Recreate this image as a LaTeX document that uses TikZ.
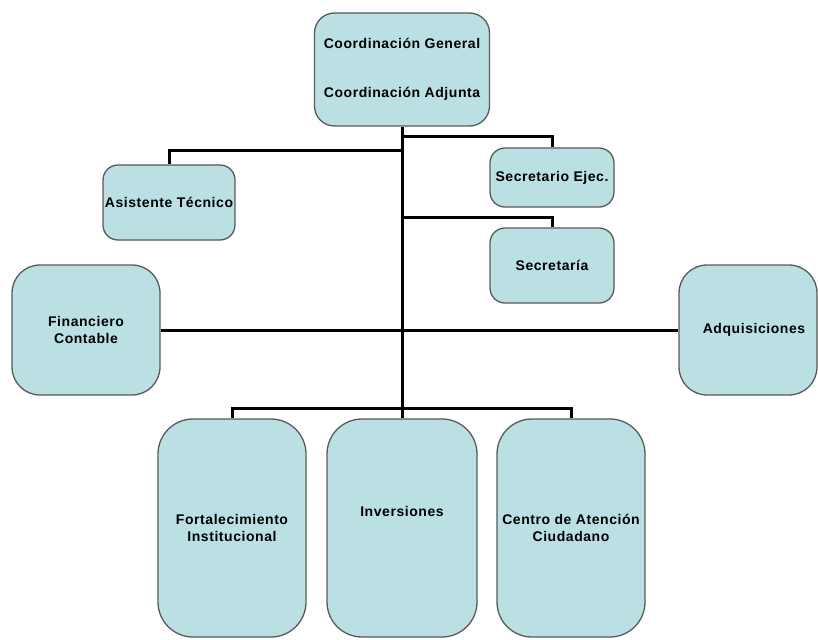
\documentclass[tikz,border=0pt]{standalone}
\usepackage{fontspec}
\setmainfont{Liberation Sans}[LetterSpace=4]
\begin{document}
\definecolor{boxfill}{RGB}{186,224,228}
\definecolor{boxline}{RGB}{90,90,90}
\begin{tikzpicture}[x=1pt,y=-1pt,
  box/.style={draw=boxline,line width=1.3pt,fill=boxfill,inner sep=0pt,
    align=center,font=\bfseries\fontsize{14}{17}\selectfont},
  wire/.style={line width=3pt,black}]
\useasboundingbox (0,0) rectangle (818,639);

% junction points on the central trunk
\coordinate (j2) at (402,137);
\coordinate (j1) at (402,151);
\coordinate (j3) at (402,217);
\coordinate (bus) at (402,408);

\node[box,rounded corners=20pt,minimum width=175pt,minimum height=113pt] (top) at (402,69.5)
  {Coordinación General\\[32pt]Coordinación Adjunta};
\node[box,rounded corners=15pt,minimum width=132pt,minimum height=75pt] (asist) at (169,202.5)
  {Asistente Técnico};
\node[box,rounded corners=15pt,minimum width=124pt,minimum height=59pt] (secej) at (552,177.5)
  {Secretario Ejec.};
\node[box,rounded corners=15pt,minimum width=124pt,minimum height=75pt] (secr) at (552,265.5)
  {Secretaría};
\node[box,rounded corners=28pt,minimum width=148pt,minimum height=130pt] (fin) at (86,330)
  {Financiero\\Contable};
\node[box,rounded corners=28pt,minimum width=138pt,minimum height=130pt] (adq) at (748,330)
  {\hspace*{12pt}Adquisiciones};
\node[box,rounded corners=35pt,minimum width=148pt,minimum height=218pt] (fort) at (232,528)
  {Fortalecimiento\\Institucional};
\node[box,rounded corners=35pt,minimum width=150pt,minimum height=218pt] (inv) at (402,528)
  {Inversiones\\[17pt]\mbox{}};
\node[box,rounded corners=35pt,minimum width=148pt,minimum height=218pt] (cac) at (571,528)
  {Centro de Atención\\Ciudadano};

\begin{scope}[wire]
  \draw (top.south) -- (bus);
  \draw (j1) -| (asist.north);
  \draw (j2) -| (secej.north);
  \draw (j3) -| (secr.north);
  \draw (fin.east) -- (fin.east -| adq.west);
  \draw (fort.north) |- (bus) -| (cac.north);
  \draw (bus) -- (inv.north);
\end{scope}
\end{tikzpicture}
\end{document}
